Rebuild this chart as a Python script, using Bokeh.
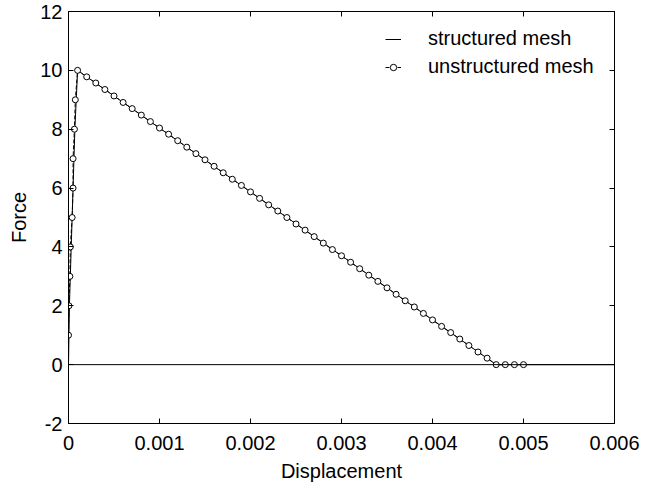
from bokeh.plotting import figure
from bokeh.models import Range1d, LinearAxis, FixedTicker, Legend, LegendItem, Span
from bokeh.embed import file_html
from bokeh.resources import INLINE

# ---- data ----
x_ticks = [0, 0.001, 0.002, 0.003, 0.004, 0.005, 0.006]
x_tick_labels = ["0", "0.001", "0.002", "0.003", "0.004", "0.005", "0.006"]
y_ticks = [-2, 0, 2, 4, 6, 8, 10, 12]
y_tick_labels = ["-2", "0", "2", "4", "6", "8", "10", "12"]

structured_x = [0, 0.00001, 0.00003, 0.00005, 0.00007, 0.0001,
                0.001, 0.002, 0.003, 0.004, 0.0047, 0.005, 0.006]
structured_y = [0, 2, 4, 6, 8, 10,
                8.04, 5.87, 3.70, 1.52, 0, 0, 0]

unstructured_x = [0, 0.000005, 0.000015, 0.00002, 0.00004, 0.00005, 0.00005,
                  0.000065, 0.000075,
                  0.0001, 0.0002, 0.0003, 0.0004, 0.0005, 0.0006, 0.0007, 0.0008,
                  0.0009, 0.0010, 0.0011, 0.0012, 0.0013, 0.0014, 0.0015, 0.0016,
                  0.0017, 0.0018, 0.0019, 0.0020, 0.0021, 0.0022, 0.0023, 0.0024,
                  0.0025, 0.0026, 0.0027, 0.0028, 0.0029, 0.0030, 0.0031, 0.0032,
                  0.0033, 0.0034, 0.0035, 0.0036, 0.0037, 0.0038, 0.0039, 0.0040,
                  0.0041, 0.0042, 0.0043, 0.0044, 0.0045, 0.0046, 0.0047,
                  0.0048, 0.0049, 0.0050]
unstructured_y = [1, 2, 3, 4, 5, 6, 7, 8, 9,
                  10.00, 9.78, 9.57, 9.35, 9.13, 8.91, 8.70, 8.48,
                  8.26, 8.04, 7.83, 7.61, 7.39, 7.17, 6.96, 6.74,
                  6.52, 6.30, 6.09, 5.87, 5.65, 5.43, 5.22, 5.00,
                  4.78, 4.57, 4.35, 4.13, 3.91, 3.70, 3.48, 3.26,
                  3.04, 2.83, 2.61, 2.39, 2.17, 1.96, 1.74, 1.52,
                  1.30, 1.09, 0.87, 0.65, 0.43, 0.22, 0.00,
                  0, 0, 0]

FONT = "Liberation Sans"

p = figure(width=649, height=488, output_backend="svg", toolbar_location=None,
           x_range=Range1d(0, 0.006), y_range=Range1d(-2, 12),
           min_border_left=68, min_border_right=35, min_border_top=11,
           min_border_bottom=65, x_axis_label="Displacement", y_axis_label="Force")
p.grid.visible = False
p.outline_line_color = "black"
p.background_fill_color = "white"
p.border_fill_color = "white"

def style_axis(ax, ticks, labels, show_labels):
    ax.ticker = FixedTicker(ticks=ticks)
    ax.major_label_overrides = {t: l for t, l in zip(ticks, labels)}
    ax.minor_tick_line_color = None
    ax.major_tick_in = 5
    ax.major_tick_out = 0
    ax.axis_line_color = "black"
    ax.major_tick_line_color = "black"
    ax.major_label_text_font = FONT
    ax.major_label_text_color = "black"
    ax.major_label_text_font_size = "20px" if show_labels else "0px"
    ax.axis_label_text_font = FONT
    ax.axis_label_text_font_style = "normal"
    ax.axis_label_text_font_size = "20px"
    ax.axis_label_text_color = "black"

style_axis(p.xaxis[0], x_ticks, x_tick_labels, True)
style_axis(p.yaxis[0], y_ticks, y_tick_labels, True)
p.xaxis[0].major_label_standoff = 12
p.xaxis[0].axis_label_standoff = 7
p.yaxis[0].major_label_standoff = 6
p.yaxis[0].axis_label_standoff = 7

top_ax = LinearAxis()
style_axis(top_ax, x_ticks, ["" for _ in x_ticks], False)
right_ax = LinearAxis()
style_axis(right_ax, y_ticks, ["" for _ in y_ticks], False)
p.add_layout(top_ax, "above")
p.add_layout(right_ax, "right")

p.add_layout(Span(location=0, dimension="width", line_color="black", line_width=1))

r1 = p.line(structured_x, structured_y, line_color="black", line_width=1)
r2 = p.line(unstructured_x, unstructured_y, line_color="black", line_width=1,
            line_dash="4 2")
r3 = p.scatter(unstructured_x, unstructured_y, marker="circle", size=6,
               fill_color="white", line_color="black", line_width=1)

legend = Legend(items=[LegendItem(label="structured mesh", renderers=[r1]),
                       LegendItem(label="unstructured mesh", renderers=[r2, r3])],
                location=(317, 345), padding=0, margin=0, spacing=5,
                glyph_width=16, glyph_height=20, label_standoff=27,
                label_text_font=FONT, label_text_font_size="20px",
                label_text_color="black",
                border_line_color=None, background_fill_alpha=0)
p.add_layout(legend)

open("out.html", "w").write(file_html(p, INLINE))
